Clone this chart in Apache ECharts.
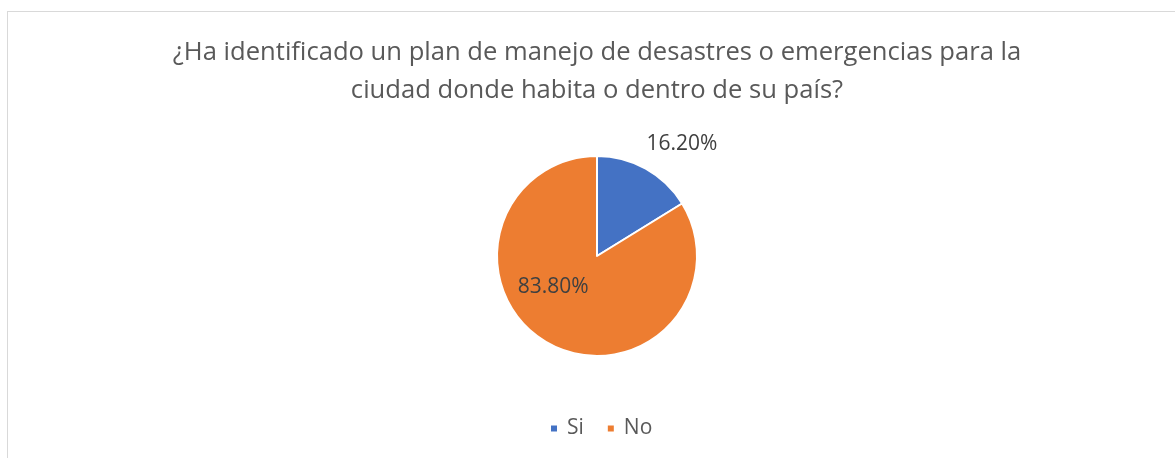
<!DOCTYPE html>
<html><head><meta charset="utf-8">
<script src="https://cdn.jsdelivr.net/npm/echarts@6/dist/echarts.min.js"></script>
<style>
html,body{margin:0;padding:0;background:#fff;}
#frame{position:absolute;left:7px;top:11px;width:1300px;height:600px;border:1px solid #d9d9d9;box-sizing:border-box;}
#c{position:absolute;left:0;top:0;width:1175px;height:458px;}
</style></head>
<body>
<div id="frame"></div>
<div id="c"></div>
<script>
const titleLines = ['¿Ha identificado un plan de manejo de desastres o emergencias para la', 'ciudad donde habita o dentro de su país?'];
const categories = ['Si', 'No'];
const values = [16.2, 83.8];
const colors = ['#4472C4', '#ED7D31'];

const chart = echarts.init(document.getElementById('c'));
const font = 'Open Sans, Noto Sans, sans-serif';
chart.setOption({
  animation: false,
  title: {
    text: titleLines.join('\n'),
    left: 592, top: 29, textAlign: 'center',
    textStyle: {fontFamily: font, fontSize: 25.6, fontWeight: 'normal', color: '#595959', lineHeight: 38}
  },
  legend: {
    data: categories, bottom: 14, left: 544,
    icon: 'rect', itemWidth: 8, itemHeight: 8, itemGap: 22,
    textStyle: {fontFamily: font, fontSize: 21, color: '#595959', padding: [0, 0, 0, 4]}
  },
  series: [{
    type: 'pie', center: [597, 256], radius: 100,
    startAngle: 90, clockwise: true,
    itemStyle: {borderColor: '#fff', borderWidth: 2},
    label: {fontFamily: font, fontSize: 21, color: '#404040',
      formatter: p => p.value.toFixed(2) + '%'},
    data: categories.map((c, i) => ({
      name: c, value: values[i], itemStyle: {color: colors[i]},
      label: i === 0 ? {position: 'outside', offset: [-17, -2]} : {position: 'inside', offset: [-18, -15]},
      labelLine: {show: false, length: 26, length2: 0}
    }))
  }]
});
</script>
</body></html>
